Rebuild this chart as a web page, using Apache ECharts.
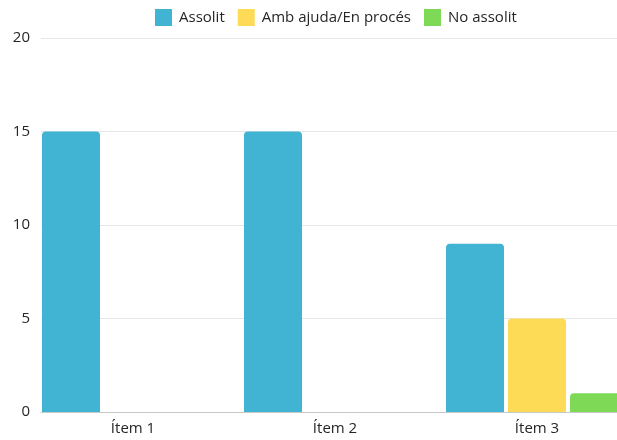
<!DOCTYPE html>
<html>
<head>
<meta charset="utf-8">
<script src="https://cdn.jsdelivr.net/npm/echarts@6/dist/echarts.min.js"></script>
<style>
html,body{margin:0;padding:0;background:#fff;overflow:hidden;width:617px;height:440px;}
#chart{width:660px;height:440px;}
</style>
</head>
<body>
<div id="chart"></div>
<script>
var categories = ['Ítem 1', 'Ítem 2', 'Ítem 3'];
var seriesNames = ['Assolit', 'Amb ajuda/En procés', 'No assolit'];
var assolit = [15, 15, 9];
var ambAjuda = [0, 0, 5];
var noAssolit = [0, 0, 1];
var yTicks = [0, 5, 10, 15, 20];

var colors = ['#42b4d3', '#fddb57', '#7ed957'];
var font = "'Open Sans', 'Noto Sans', sans-serif";
var textColor = '#262626';

var chart = echarts.init(document.getElementById('chart'), null, {renderer: 'canvas'});
var barStyle = function (c) {
  return {color: c, borderRadius: [4, 4, 0, 0]};
};
chart.setOption({
  animation: false,
  textStyle: {fontFamily: font},
  legend: {
    left: 155, top: 9, padding: 0,
    itemWidth: 17, itemHeight: 17, itemGap: 13,
    icon: 'rect',
    textStyle: {fontSize: 15, color: textColor, fontFamily: font, padding: [0, 0, 0, 2]},
    data: seriesNames
  },
  grid: [
    {left: 32, top: 38, width: 606, height: 374},
    {left: 41, top: 38, width: 597, height: 374}
  ],
  xAxis: [
    {
      type: 'category', gridIndex: 0, data: categories,
      axisLine: {show: false}, axisTick: {show: false},
      axisLabel: {fontSize: 15, color: textColor, margin: 9, fontFamily: font},
      splitLine: {show: false}
    },
    {
      type: 'value', gridIndex: 1, min: 0, max: 1,
      axisLine: {show: true, onZero: false, lineStyle: {color: '#c8c8c8', width: 1}},
      axisTick: {show: false}, axisLabel: {show: false}, splitLine: {show: false}
    }
  ],
  yAxis: [
    {type: 'value', gridIndex: 0, min: yTicks[0], max: yTicks[yTicks.length - 1], interval: 5, show: false},
    {
      type: 'value', gridIndex: 1, min: yTicks[0], max: yTicks[yTicks.length - 1], interval: 5,
      axisLine: {show: false}, axisTick: {show: false},
      axisLabel: {fontSize: 15, color: textColor, margin: 11, fontFamily: font},
      splitLine: {show: true, lineStyle: {color: '#e6e6e6', width: 1}}
    }
  ],
  series: [
    {name: seriesNames[0], type: 'bar', xAxisIndex: 0, yAxisIndex: 0, data: assolit,
     barWidth: 58, barGap: '6.9%', itemStyle: barStyle(colors[0])},
    {name: seriesNames[1], type: 'bar', xAxisIndex: 0, yAxisIndex: 0, data: ambAjuda,
     barWidth: 58, barGap: '6.9%', itemStyle: barStyle(colors[1])},
    {name: seriesNames[2], type: 'bar', xAxisIndex: 0, yAxisIndex: 0, data: noAssolit,
     barWidth: 58, barGap: '6.9%', itemStyle: barStyle(colors[2])}
  ]
});
</script>
</body>
</html>
